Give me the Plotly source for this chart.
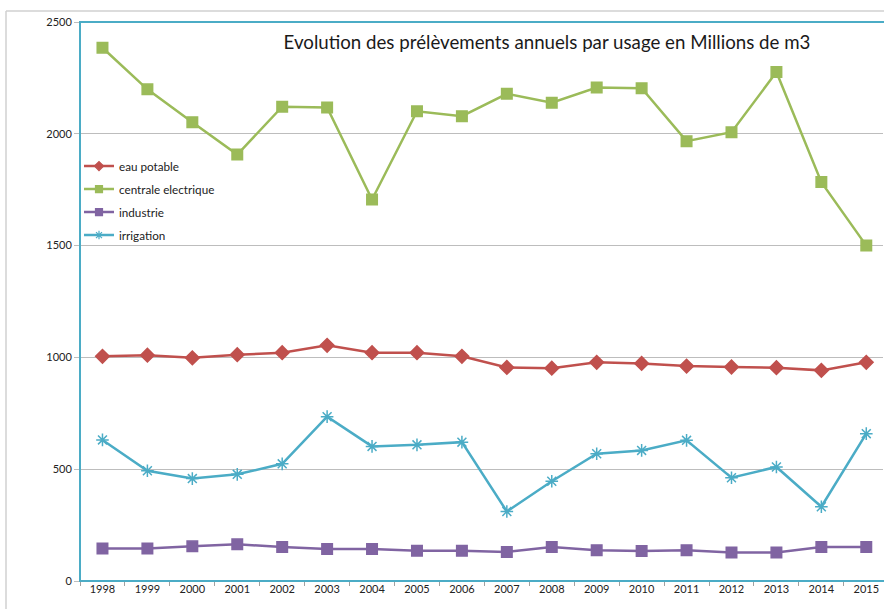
import plotly.graph_objects as go

years = [str(y) for y in range(1998, 2016)]
eau_potable = [1005, 1010, 998, 1012, 1021, 1054, 1021, 1021, 1005, 955, 952, 978, 973, 961, 957, 954, 942, 978]
centrale = [2385, 2199, 2052, 1907, 2121, 2118, 1706, 2101, 2079, 2179, 2139, 2207, 2204, 1967, 2007, 2276, 1784, 1500]
industrie = [145, 145, 155, 164, 152, 143, 143, 135, 135, 130, 152, 138, 134, 138, 128, 127, 152, 152]
irrigation = [631, 493, 458, 477, 524, 735, 602, 609, 621, 311, 446, 569, 584, 629, 462, 510, 332, 659]
y_ticks = [0, 500, 1000, 1500, 2000, 2500]
title_text = "Evolution des prélèvements annuels par usage en Millions de m3"

W, H = 884, 609
L, R, T, B = 80, 883, 22, 580.7
pw, ph = R - L, B - T

series = [
    ("eau potable", eau_potable, "#C0504D", "diamond", 10.5, 7),
    ("centrale electrique", centrale, "#9BBB59", "square", 10.5, 7),
    ("industrie", industrie, "#8064A2", "square", 10.5, 7),
    ("irrigation", irrigation, "#4BACC6", "asterisk-open", 10.5, 7),
]

fig = go.Figure()
for i, (name, vals, col, sym, sz, lsz) in enumerate(series):
    fig.add_trace(go.Scatter(
        x=years, y=vals, name=name, mode="lines+markers",
        legendgroup=name, showlegend=False,
        line=dict(color=col, width=2.5),
        marker=dict(symbol=sym, size=sz, color=col,
                    line=dict(color=col, width=1.5)),
    ))
    # legend entry with small marker, as in the reference
    fig.add_trace(go.Scatter(
        x=[None], y=[None], name=name, mode="lines+markers",
        legendgroup=name, showlegend=True, legendrank=i + 1,
        line=dict(color=col, width=2.5),
        marker=dict(symbol=sym, size=lsz, color=col,
                    line=dict(color=col, width=1.2)),
    ))

font_f = "Lato, 'Open Sans', sans-serif"

fig.update_layout(
    width=W, height=H,
    margin=dict(l=L, r=W - R, t=T, b=H - B, pad=0),
    paper_bgcolor="white", plot_bgcolor="white",
    font=dict(family=font_f, size=11, color="#333333"),
    title=dict(text=title_text, x=547 / W, xanchor="center",
               y=1 - 42 / H, yanchor="middle", xref="container", yref="container",
               font=dict(family=font_f, size=18.7, color="#1a1a1a")),
    showlegend=True,
    legend=dict(x=(79 - L) / pw, xanchor="left", y=(B - 151.5) / ph, yanchor="top",
                bgcolor="rgba(0,0,0,0)", font=dict(size=11.7, color="#222222"),
                traceorder="grouped", tracegroupgap=4, itemwidth=30),
    xaxis=dict(type="category", range=[-0.5, (R - L) / 44.93 - 0.5],
               showgrid=False, showline=False, zeroline=False,
               ticks="outside", tickson="boundaries", ticklen=4, tickcolor="#a0a0a0",
               tickfont=dict(size=11, color="#222222")),
    yaxis=dict(range=[0, 2500], tickvals=y_ticks, showgrid=True, gridcolor="#bdbdbd",
               gridwidth=1, zeroline=False, showline=False,
               ticks="outside", ticklen=5, tickcolor="#bdbdbd",
               tickfont=dict(size=11, color="#222222")),
)

# plot-area frame (blue) and outer chart border (light gray)
fig.add_shape(type="rect", xref="paper", yref="paper", x0=0, x1=1.02, y0=0, y1=1,
              line=dict(color="#4BACC6", width=2), fillcolor="rgba(0,0,0,0)", layer="above")
fig.add_shape(type="line", xref="paper", yref="paper",
              x0=(6 - L) / pw, x1=1.05, y0=(B - 11) / ph, y1=(B - 11) / ph,
              line=dict(color="#d0d0d0", width=1.5))
fig.add_shape(type="line", xref="paper", yref="paper",
              x0=(6 - L) / pw, x1=(6 - L) / pw, y0=(B - 11) / ph, y1=(B - 620) / ph,
              line=dict(color="#d0d0d0", width=1.5))

fig.write_html("out.html",
               config={"displayModeBar": False},
               post_script="document.body.style.margin='0';document.body.style.overflow='hidden';")
